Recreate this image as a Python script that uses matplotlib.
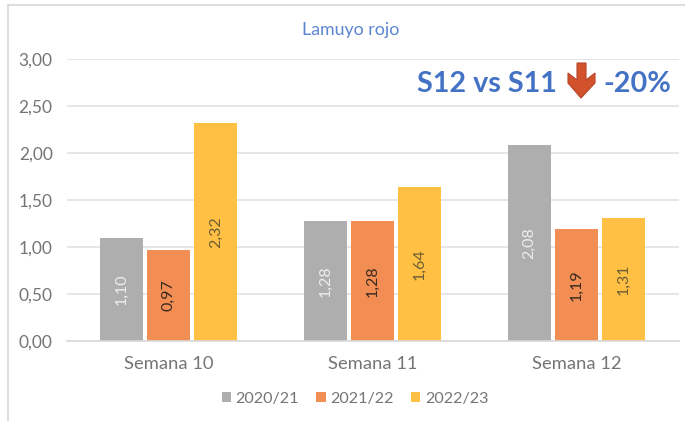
#!/usr/bin/env python3
"""Lamuyo rojo: grouped bars per week, three seasons."""

import matplotlib
matplotlib.use('Agg')
import matplotlib.pyplot as plt
from matplotlib.patches import Polygon
import numpy as np

weeks = ['Semana 10', 'Semana 11', 'Semana 12']
seasons = ['2020/21', '2021/22', '2022/23']
values_2020 = [1.10, 1.28, 2.08]
values_2021 = [0.97, 1.28, 1.19]
values_2022 = [2.32, 1.64, 1.31]
y_ticks = [0.0, 0.5, 1.0, 1.5, 2.0, 2.5, 3.0]

COLORS = ['#AEAEAE', '#F28E54', '#FFC044']
LABEL_COLORS = ['#EDEDED', '#3A2A20', '#6E5E33']
TEXT_GREY = '#757575'
W, H = 685, 421

plt.rcParams['font.family'] = ['Lato', 'DejaVu Sans']

fig = plt.figure(figsize=(W / 100, H / 100), dpi=100, facecolor='white')
ax = fig.add_axes([66.5 / W, 1 - 341 / H, (678.5 - 66.5) / W, (341 - 59) / H])

x = np.arange(len(weeks))
bar_w = 0.21
step = 0.231
series = [values_2020, values_2021, values_2022]

for i, vals in enumerate(series):
    pos = x + (i - 1) * step
    bars = ax.bar(pos, vals, bar_w, color=COLORS[i], label=seasons[i], zorder=2)
    for b, v in zip(bars, vals):
        ax.text(b.get_x() + b.get_width() / 2, v / 2, f'{v:.2f}'.replace('.', ','),
                rotation=90, ha='center', va='center', fontsize=11.5,
                color=LABEL_COLORS[i], zorder=3)

ax.set_xlim(-0.5, 2.5)
ax.set_ylim(0, 3)
ax.set_xticks(x)
ax.set_xticklabels(weeks)
ax.set_yticks(y_ticks)
ax.set_yticklabels([f'{t:.2f}'.replace('.', ',') for t in y_ticks])
ax.tick_params(axis='both', length=0, labelsize=12.5, labelcolor=TEXT_GREY)
ax.tick_params(axis='x', pad=11, labelsize=13.2)
ax.tick_params(axis='y', pad=10)
ax.grid(axis='y', color='#E2E2E2', linewidth=1.2, zorder=0)
ax.set_axisbelow(True)
for side in ['top', 'right', 'left']:
    ax.spines[side].set_visible(False)
ax.spines['bottom'].set_color('#D9D9D9')
ax.spines['bottom'].set_linewidth(1.2)

fig.text(351 / W, 1 - 30 / H, 'Lamuyo rojo', ha='center', va='center',
         fontsize=12.8, color='#5B86D0')

# callout in the top right
fig.text(417 / W, 1 - 84 / H, 'S12 vs S11', ha='left', va='center',
         fontsize=20.7, fontweight='bold', color='#4472C4')
fig.text(603 / W, 1 - 84 / H, '-20%', ha='left', va='center',
         fontsize=20.7, fontweight='bold', color='#4472C4')
arrow_px = [(577, 63), (586, 63), (586, 80), (595, 73), (595, 83), (581, 98),
            (568, 83), (568, 73), (577, 80)]
fig.add_artist(Polygon([(px / W, 1 - py / H) for px, py in arrow_px], closed=True,
                       facecolor='#D2522B', edgecolor='#B8452A', linewidth=0.8,
                       transform=fig.transFigure))

# legend
ax.legend(loc='center', bbox_to_anchor=(355 / W, 1 - 399 / H),
          bbox_transform=fig.transFigure, ncol=3, frameon=False,
          fontsize=11.6, labelcolor=TEXT_GREY, handlelength=0.58,
          handleheight=0.58, handletextpad=0.3, columnspacing=1.05)

# chart frame, open on the right and bottom
fig.add_artist(plt.Line2D([7.5 / W, 7.5 / W], [0, 1 - 4.5 / H], color='#DEDEDE',
                          linewidth=1.5))
fig.add_artist(plt.Line2D([7.5 / W, 1], [1 - 4.5 / H, 1 - 4.5 / H], color='#DEDEDE',
                          linewidth=1.5))

fig.savefig('out.png', dpi=100, facecolor='white')
plt.close(fig)
